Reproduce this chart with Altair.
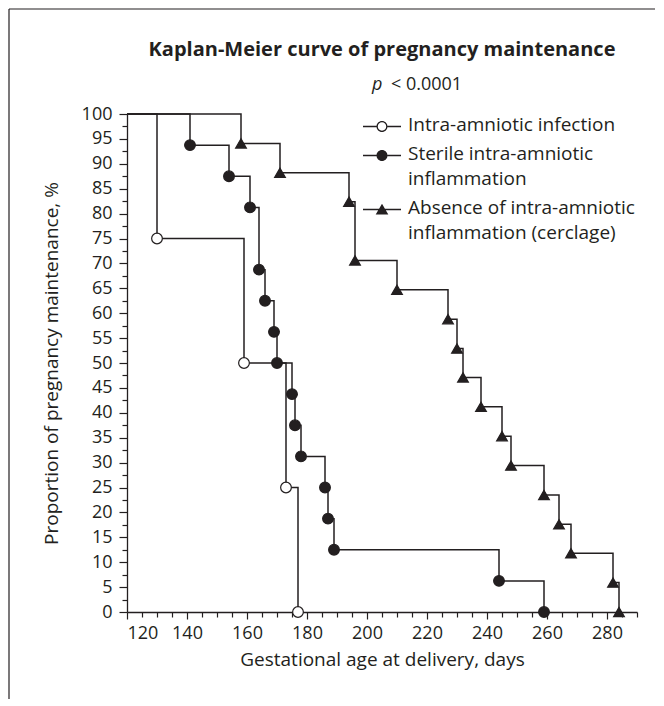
import altair as alt
import pandas as pd

BLACK = "#231f20"
FONT = "Open Sans"

series_names = [
    "Intra-amniotic infection",
    "Sterile intra-amniotic inflammation",
    "Absence of intra-amniotic inflammation (cerclage)",
]

start_day = 120
start_surv = 100.0

infection_days = [130, 159, 173, 177]
infection_surv = [75.0, 50.0, 25.0, 0.0]

sterile_days = [141, 154, 161, 164, 166, 169, 170, 175, 176, 178, 186, 187, 189, 244, 259]
sterile_surv = [93.75, 87.5, 81.25, 68.75, 62.5, 56.25, 50.0, 43.75, 37.5, 31.25, 25.0, 18.75, 12.5, 6.25, 0.0]

absence_days = [158, 171, 194, 196, 210, 227, 230, 232, 238, 245, 248, 259, 264, 268, 282, 284]
absence_surv = [94.1, 88.2, 82.4, 70.6, 64.7, 58.8, 52.9, 47.1, 41.2, 35.3, 29.4, 23.5, 17.6, 11.8, 5.9, 0.0]

x_tick_values = list(range(120, 291, 5))
y_tick_values = [i * 2.5 for i in range(41)]

title_text = "Kaplan-Meier curve of pregnancy maintenance"
p_symbol = "p"
p_value_text = "< 0.0001"

rows = []
for name, days, surv in [
    (series_names[0], infection_days, infection_surv),
    (series_names[1], sterile_days, sterile_surv),
    (series_names[2], absence_days, absence_surv),
]:
    rows.append({"series": name, "day": start_day, "surv": start_surv, "event": False})
    for d, s in zip(days, surv):
        rows.append({"series": name, "day": d, "surv": s, "event": True})
df = pd.DataFrame(rows)

W, H = 510, 498

x_enc = alt.X(
    "day:Q",
    scale=alt.Scale(domain=[120, 290], nice=False, zero=False),
    axis=alt.Axis(
        values=x_tick_values,
        labelExpr="datum.value % 20 === 0 ? datum.label : ''",
        tickSize={"condition": {"test": "datum.value % 20 === 0", "value": 7}, "value": 5},
        labelOverlap=False,
        labelPadding=5,
        title="Gestational age at delivery, days",
        titlePadding=8,
        grid=False,
    ),
)
y_enc = alt.Y(
    "surv:Q",
    scale=alt.Scale(domain=[0, 100], nice=False),
    axis=alt.Axis(
        values=y_tick_values,
        labelExpr="datum.value % 5 === 0 ? datum.label : ''",
        tickSize={"condition": {"test": "datum.value % 5 === 0", "value": 8}, "value": 5},
        labelOverlap=False,
        labelPadding=7,
        title="Proportion of pregnancy maintenance, %",
        titlePadding=20,
        grid=False,
    ),
)

lines = alt.Chart(df).mark_line(
    interpolate="step-after", color=BLACK, strokeWidth=1.5
).encode(x=x_enc, y=y_enc, detail="series:N", order="day:Q")

points = alt.Chart(df).transform_filter("datum.event").mark_point(
    filled=True, stroke=BLACK, strokeWidth=1.2, opacity=1
).encode(
    x=x_enc,
    y=y_enc,
    shape=alt.Shape("series:N", scale=alt.Scale(domain=series_names, range=["circle", "circle", "triangle-up"]), legend=None),
    fill=alt.Fill("series:N", scale=alt.Scale(domain=series_names, range=["white", BLACK, BLACK]), legend=None),
    size=alt.Size("series:N", scale=alt.Scale(domain=series_names, range=[115, 115, 150]), legend=None),
)

# legend symbols: line + marker as filled paths (unit = 10 px), shifted down onto the first label line
seg = "M-1.9 0.975L-0.55 0.975L-0.55 1.125L-1.9 1.125ZM0.55 0.975L1.9 0.975L1.9 1.125L0.55 1.125Z"
outer = "M0.55 1.05A0.55 0.55 0 1 1 -0.55 1.05A0.55 0.55 0 1 1 0.55 1.05Z"
inner = "M0.42 1.05A0.42 0.42 0 1 0 -0.42 1.05A0.42 0.42 0 1 0 0.42 1.05Z"
tri = "M-1.9 0.975L1.9 0.975L1.9 1.125L-1.9 1.125ZM0 0.48L0.63 1.54L-0.63 1.54Z"
leg_paths = [seg + outer + inner, seg + outer, tri]

label_expr = (
    "datum.label == 'Sterile intra-amniotic inflammation' ? ['Sterile intra-amniotic', 'inflammation'] : "
    "datum.label == 'Absence of intra-amniotic inflammation (cerclage)' ? ['Absence of intra-amniotic', 'inflammation (cerclage)'] : datum.label"
)
legend = alt.Legend(
    orient="none",
    legendX=245,
    legendY=-8,
    title=None,
    labelFont=FONT,
    labelFontSize=19,
    labelColor=BLACK,
    labelBaseline="top",
    labelOffset=16,
    labelLimit=600,
    labelExpr=label_expr,
    rowPadding=0,
    padding=0,
    symbolSize=400,
    symbolFillColor=BLACK,
    symbolStrokeWidth=0,
)
legend_layer = alt.Chart(df).transform_filter("false").mark_point(
    filled=True, color=BLACK, size=400, opacity=1
).encode(
    x=x_enc,
    y=y_enc,
    shape=alt.Shape("series:N", scale=alt.Scale(domain=series_names, range=leg_paths), legend=legend),
)

one = pd.DataFrame({"k": [0]})
title_mark = alt.Chart(one).mark_text(
    text=title_text, font=FONT, fontSize=20, fontWeight="bold", color=BLACK, align="center", baseline="middle"
).encode(x=alt.value(W / 2), y=alt.value(-64))
p_italic = alt.Chart(one).mark_text(
    text=p_symbol, font=FONT, fontSize=18, fontStyle="italic", color=BLACK, align="left", baseline="middle"
).encode(x=alt.value(245), y=alt.value(-29))
p_rest = alt.Chart(one).mark_text(
    text=p_value_text, font=FONT, fontSize=18, color=BLACK, align="left", baseline="middle"
).encode(x=alt.value(264), y=alt.value(-29))

frame_top = alt.Chart(one).mark_rule(color=BLACK, strokeWidth=1.2).encode(
    x=alt.value(-118), x2=alt.value(528), y=alt.value(-105)
)
frame_left = alt.Chart(one).mark_rule(color=BLACK, strokeWidth=1.2).encode(
    x=alt.value(-118), y=alt.value(-105), y2=alt.value(585)
)

chart = alt.layer(
    frame_top, frame_left, lines, points, legend_layer, title_mark, p_italic, p_rest
).resolve_scale(
    shape="independent"
).properties(
    width=W,
    height=H,
    padding=0,
).configure(
    background="white",
    style={"guide-label": {"lineHeight": 25}},
).configure_view(
    stroke=None
).configure_axis(
    domainColor=BLACK,
    domainWidth=1.3,
    tickColor=BLACK,
    tickWidth=1.2,
    labelFont=FONT,
    labelFontSize=18,
    labelColor=BLACK,
    titleFont=FONT,
    titleFontSize=19,
    titleFontWeight="normal",
    titleColor=BLACK,
)

chart.save("out.html", embed_options={"renderer": "svg", "actions": False})
